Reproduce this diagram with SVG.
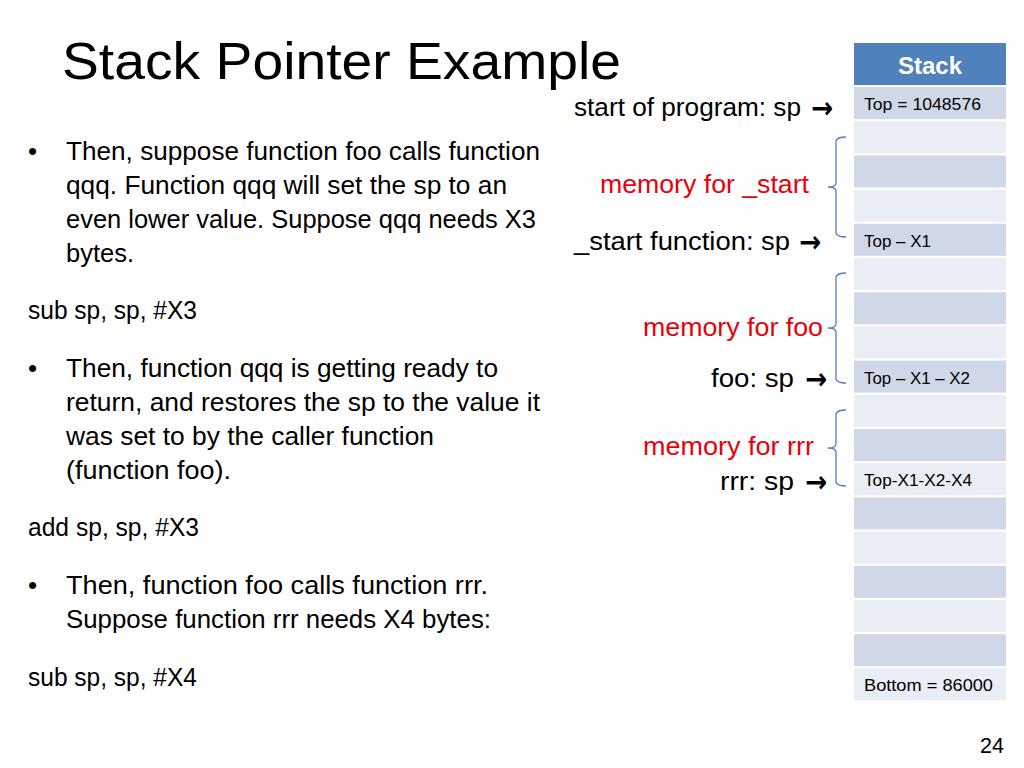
<svg xmlns="http://www.w3.org/2000/svg" width="1024" height="768" viewBox="0 0 1024 768">
<style>
text{font-family:"Liberation Sans",Arial,sans-serif;fill:#000}
.title{font-size:52px}
.body{font-size:26px}
.red{fill:#E8000B}
.arr{font-family:"DejaVu Sans",sans-serif;font-weight:bold;font-size:30px}
.cell{font-size:16.5px}
.hdr{font-size:24px;font-weight:bold;fill:#fff}
.dark{fill:#D0D8E8}
.light{fill:#E9EDF4}
.brace{fill:none;stroke:#4F81BD;stroke-width:1.3}
</style>
<rect width="1024" height="768" fill="#fff"/>
<g id="title"><text class="title" x="62" y="79" textLength="559" lengthAdjust="spacingAndGlyphs">Stack Pointer Example</text></g>
<g id="left-text">
<text class="body" x="28" y="160">•</text>
<text class="body" x="66" y="160" textLength="474" lengthAdjust="spacingAndGlyphs">Then, suppose function foo calls function</text>
<text class="body" x="66" y="194" textLength="441" lengthAdjust="spacingAndGlyphs">qqq. Function qqq will set the sp to an</text>
<text class="body" x="66" y="228" textLength="470" lengthAdjust="spacingAndGlyphs">even lower value. Suppose qqq needs X3</text>
<text class="body" x="66" y="262" textLength="68" lengthAdjust="spacingAndGlyphs">bytes.</text>
<text class="body" x="28" y="319" textLength="169" lengthAdjust="spacingAndGlyphs">sub sp, sp, #X3</text>
<text class="body" x="28" y="377">•</text>
<text class="body" x="66" y="377" textLength="432" lengthAdjust="spacingAndGlyphs">Then, function qqq is getting ready to</text>
<text class="body" x="66" y="411" textLength="474" lengthAdjust="spacingAndGlyphs">return, and restores the sp to the value it</text>
<text class="body" x="66" y="445" textLength="368" lengthAdjust="spacingAndGlyphs">was set to by the caller function</text>
<text class="body" x="66" y="479" textLength="165" lengthAdjust="spacingAndGlyphs">(function foo).</text>
<text class="body" x="28" y="536" textLength="171" lengthAdjust="spacingAndGlyphs">add sp, sp, #X3</text>
<text class="body" x="28" y="594">•</text>
<text class="body" x="66" y="594" textLength="422" lengthAdjust="spacingAndGlyphs">Then, function foo calls function rrr.</text>
<text class="body" x="66" y="628" textLength="425" lengthAdjust="spacingAndGlyphs">Suppose function rrr needs X4 bytes:</text>
<text class="body" x="28" y="686" textLength="169" lengthAdjust="spacingAndGlyphs">sub sp, sp, #X4</text>
</g>
<g id="labels" xml:space="preserve">
<text class="body" x="574" y="116" textLength="227" lengthAdjust="spacingAndGlyphs">start of program: sp</text>
<text class="arr" x="811" y="118" textLength="22" lengthAdjust="spacingAndGlyphs">→</text>
<text class="body red" x="600" y="193" textLength="209" lengthAdjust="spacingAndGlyphs">memory for _start</text>
<text class="body" x="574" y="250" textLength="216" lengthAdjust="spacingAndGlyphs">_start function:  sp</text>
<text class="arr" x="799" y="252" textLength="22" lengthAdjust="spacingAndGlyphs">→</text>
<text class="body red" x="643" y="336" textLength="180" lengthAdjust="spacingAndGlyphs">memory for foo</text>
<text class="body" x="711" y="387" textLength="83" lengthAdjust="spacingAndGlyphs">foo:  sp</text>
<text class="arr" x="805" y="389" textLength="22" lengthAdjust="spacingAndGlyphs">→</text>
<text class="body red" x="643" y="455" textLength="171" lengthAdjust="spacingAndGlyphs">memory for rrr</text>
<text class="body" x="720" y="490" textLength="74" lengthAdjust="spacingAndGlyphs">rrr:  sp</text>
<text class="arr" x="805" y="492" textLength="22" lengthAdjust="spacingAndGlyphs">→</text>
</g>
<g id="braces">
<path class="brace" d="M846,137 Q837,137 836,141 L836,183 Q836,187 828,187 Q836,187 836,191 L836,233 Q837,237 846,237"/>
<path class="brace" d="M846,273 Q837,273 836,277 L836,324 Q836,328 828,328 Q836,328 836,332 L836,379 Q837,383 846,383"/>
<path class="brace" d="M846,410 Q837,410 836,414 L836,444 Q836,448 828,448 Q836,448 836,452 L836,482 Q837,486 846,486"/>
</g>
<g id="stack">
<rect x="854" y="43" width="152" height="42" fill="#4F81BD"/>
<text class="hdr" x="930" y="74" text-anchor="middle">Stack</text>
<rect class="dark" x="854" y="87" width="152" height="32"/>
<rect class="light" x="854" y="121.2" width="152" height="32"/>
<rect class="dark" x="854" y="155.4" width="152" height="32"/>
<rect class="light" x="854" y="189.6" width="152" height="32"/>
<rect class="dark" x="854" y="223.8" width="152" height="32"/>
<rect class="light" x="854" y="258" width="152" height="32"/>
<rect class="dark" x="854" y="292.2" width="152" height="32"/>
<rect class="light" x="854" y="326.4" width="152" height="32"/>
<rect class="dark" x="854" y="360.6" width="152" height="32"/>
<rect class="light" x="854" y="394.8" width="152" height="32"/>
<rect class="dark" x="854" y="429" width="152" height="32"/>
<rect class="light" x="854" y="463.2" width="152" height="32"/>
<rect class="dark" x="854" y="497.4" width="152" height="32"/>
<rect class="light" x="854" y="531.6" width="152" height="32"/>
<rect class="dark" x="854" y="565.8" width="152" height="32"/>
<rect class="light" x="854" y="600" width="152" height="32"/>
<rect class="dark" x="854" y="634.2" width="152" height="32"/>
<rect class="light" x="854" y="668.4" width="152" height="32"/>
<text class="cell" x="864" y="110" textLength="117" lengthAdjust="spacingAndGlyphs">Top = 1048576</text>
<text class="cell" x="864" y="247" textLength="67" lengthAdjust="spacingAndGlyphs">Top – X1</text>
<text class="cell" x="864" y="384" textLength="106" lengthAdjust="spacingAndGlyphs">Top – X1 – X2</text>
<text class="cell" x="864" y="486" textLength="108" lengthAdjust="spacingAndGlyphs">Top-X1-X2-X4</text>
<text class="cell" x="864" y="691" textLength="129" lengthAdjust="spacingAndGlyphs">Bottom = 86000</text>
</g>
<g id="page-number"><text x="980" y="753" style="font-size:22px" textLength="24" lengthAdjust="spacingAndGlyphs">24</text></g>
</svg>
